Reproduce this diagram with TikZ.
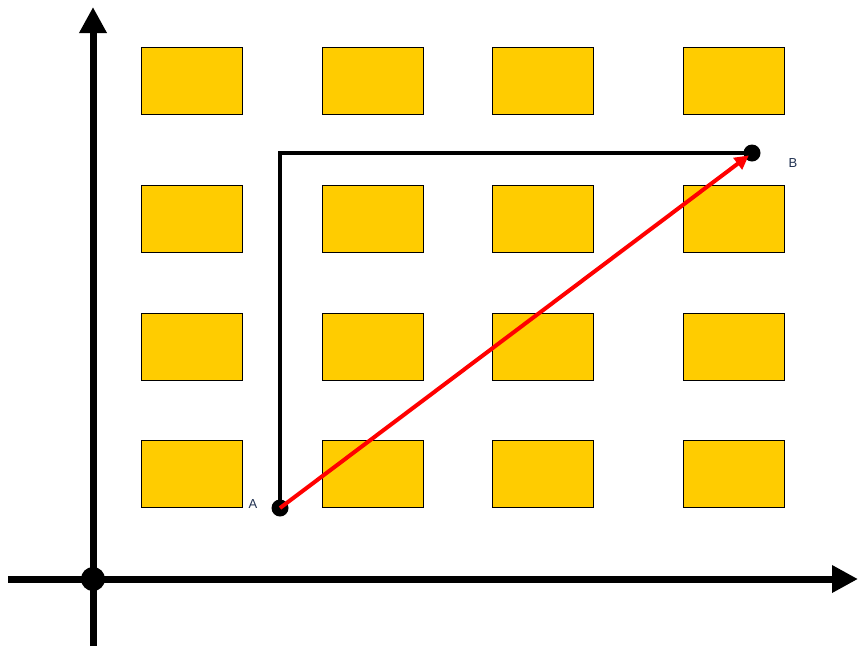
\documentclass[tikz,border=0pt]{standalone}
\usepackage{fontspec}
\setmainfont{Liberation Sans}
\usetikzlibrary{arrows.meta}
\definecolor{cellfill}{HTML}{FFCC00}
\definecolor{labeltext}{HTML}{1F3050}
\tikzset{
  cell/.style={draw=black, line width=1pt, fill=cellfill},
  axis/.style={line width=7pt, -{Triangle[length=26pt,width=26pt]}},
  route/.style={line width=4pt, black},
  direct/.style={line width=4pt, red, -{Triangle[length=14pt,width=14pt]}, shorten >=4pt},
  pt/.style={circle, fill=black, inner sep=0pt, minimum size=17pt},
  origin/.style={circle, fill=black, inner sep=0pt, minimum size=24pt},
  lbl/.style={font=\fontsize{13pt}{15pt}\selectfont, text=labeltext, inner sep=0pt}
}
\begin{document}
\begin{tikzpicture}[x=1pt,y=-1pt]
\useasboundingbox (0,0) rectangle (858,646);
% grid of blocks
\foreach \xa/\xb in {141/242,322/423,492/593,683/784}{
  \foreach \ya/\yb in {47/114,185/252,313/380,440/507}{
    \draw[cell] (\xa,\ya) rectangle (\xb,\yb);
  }
}
% axes
\coordinate (xs) at (8,579);
\coordinate (xe) at (858,579);
\coordinate (ys) at (93,646);
\coordinate (ye) at (93,7);
\draw[axis] (xs) -- (xe);
\draw[axis] (ys) -- (ye);
\node[origin] (o) at (93,579) {};
% points and paths
\node[pt] (a) at (280,508) {};
\node[pt] (b) at (752,153) {};
\coordinate (corner) at (280,153);
\draw[route] (a.center) -- (corner) -- (b.center);
\draw[direct] (a.center) -- (b.center);
\node[lbl] (la) at (253,504) {A};
\node[lbl] (lb) at (793,163) {B};
\end{tikzpicture}
\end{document}
